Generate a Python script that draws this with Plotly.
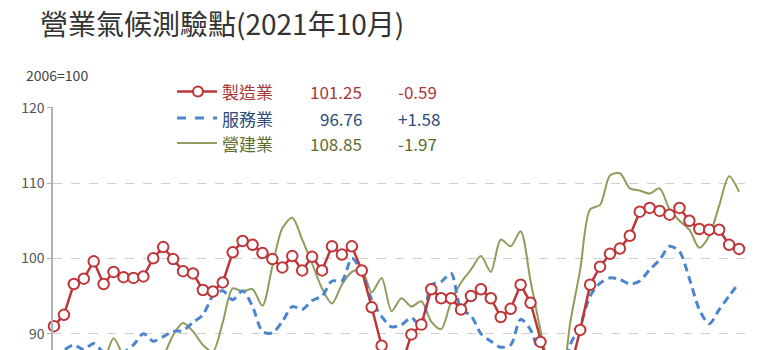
import plotly.graph_objects as go

# ---------------- data ----------------
months = list(range(1, 71))  # Jan 2016 .. Oct 2021 (monthly index)

manufacturing = [91.0, 92.5, 96.6, 97.3, 99.6, 96.6, 98.2, 97.5, 97.4, 97.6,
                 100.0, 101.5, 99.9, 98.3, 98.0, 95.8, 95.6, 96.8, 100.8, 102.3,
                 101.8, 100.7, 99.9, 98.8, 100.3, 98.4, 100.2, 98.4, 101.6, 100.5,
                 101.6, 98.4, 93.5, 88.4, 85.0, 85.8, 89.9, 91.2, 95.9, 94.7,
                 94.7, 93.2, 95.0, 95.9, 94.7, 92.2, 93.3, 96.5, 94.1, 88.9,
                 84.5, 83.0, 85.2, 90.5, 96.5, 98.9, 100.6, 101.3, 103.0, 106.2,
                 106.7, 106.3, 105.8, 106.7, 105.0, 103.9, 103.8, 103.8, 101.8, 101.25]

services = [87.0, 87.8, 88.5, 87.9, 88.7, 87.5, 87.0, 87.5, 88.5, 90.0,
            89.0, 89.6, 90.3, 90.4, 91.5, 92.5, 95.0, 95.7, 94.5, 95.7,
            93.6, 90.3, 90.1, 91.6, 93.6, 93.2, 94.4, 95.0, 97.0, 97.0,
            100.0, 98.2, 94.5, 92.3, 90.9, 91.2, 92.1, 91.0, 96.5, 96.9,
            98.0, 93.2, 92.4, 90.0, 89.0, 88.2, 88.5, 91.9, 90.5, 86.5,
            82.0, 80.0, 88.5, 91.0, 95.0, 96.7, 97.4, 97.2, 96.6, 97.0,
            98.5, 99.8, 101.6, 100.9, 97.3, 93.2, 91.3, 93.2, 95.0, 96.76]

construction = [84.0, 84.5, 85.0, 85.5, 86.0, 86.5, 89.4, 87.0, 85.5, 85.0,
                85.5, 87.0, 89.8, 91.4, 90.3, 88.5, 87.6, 91.5, 96.0, 95.6,
                95.9, 93.7, 99.0, 104.0, 105.4, 102.5, 99.3, 96.0, 94.0, 96.5,
                98.2, 98.5, 95.5, 97.4, 93.0, 94.7, 93.6, 94.3, 91.6, 90.6,
                94.3, 96.8, 98.5, 100.3, 98.2, 102.5, 101.6, 103.6, 97.0, 90.5,
                85.0, 83.0, 91.5, 98.5, 106.5, 107.1, 111.0, 111.3, 109.3, 109.0,
                108.6, 109.3, 106.5, 105.0, 103.8, 101.4, 103.0, 107.0, 110.9, 108.85]

series_names = ["製造業", "服務業", "營建業"]
latest_values = ["101.25", "96.76", "108.85"]
latest_changes = ["-0.59", "+1.58", "-1.97"]
y_ticks = [90, 100, 110, 120]

title_text = "營業氣候測驗點(2021年10月)"
base_text = "2006=100"

# ---------------- style ----------------
RED = "#BE3638"
BLUE = "#4A86CF"
GREEN = "#8E9D5E"
TEXT_COLORS = ["#A83638", "#2E4A7A", "#5E6D2C"]
FONT = "Noto Sans CJK TC"

W_PX, H_PX = 775, 350
L, R, T, B = 53, 30, 107, 0
PW = W_PX - L - R
PH = H_PX - T - B


def px(x):
    return (x - L) / PW


def py(y):
    return (H_PX - B - y) / PH


fig = go.Figure()

fig.add_trace(go.Scatter(
    x=months, y=construction, mode="lines", name=series_names[2],
    line=dict(color=GREEN, width=2, shape="spline", smoothing=0.8),
    hoverinfo="skip"))
fig.add_trace(go.Scatter(
    x=months, y=services, mode="lines", name=series_names[1],
    line=dict(color=BLUE, width=3, dash="8px,5px", shape="spline", smoothing=0.8),
    hoverinfo="skip"))
fig.add_trace(go.Scatter(
    x=months, y=manufacturing, mode="lines+markers", name=series_names[0],
    line=dict(color=RED, width=2.5),
    marker=dict(symbol="circle", size=10.5, color="white",
                line=dict(color=RED, width=2)),
    cliponaxis=False, hoverinfo="skip"))

shapes = []
annotations = []

# title & base note
annotations.append(dict(text=title_text, x=px(38), y=py(23), xref="paper", yref="paper",
                        xanchor="left", yanchor="middle", showarrow=False,
                        font=dict(family=FONT, size=28, color="#333333")))
annotations.append(dict(text=base_text, x=px(24), y=py(75), xref="paper", yref="paper",
                        xanchor="left", yanchor="middle", showarrow=False,
                        font=dict(family=FONT, size=14, color="#444444")))

# custom legend
row_y = [91.5, 118, 143]
line_styles = [dict(color=RED, width=2.5), dict(color=BLUE, width=3, dash="dash"),
               dict(color=GREEN, width=2)]
for i in range(3):
    yy = py(row_y[i])
    shapes.append(dict(type="line", xref="paper", yref="paper",
                       x0=px(177), x1=px(217), y0=yy, y1=yy, line=line_styles[i]))
    annotations.append(dict(text=series_names[i], x=px(220), y=yy, xref="paper", yref="paper",
                            xanchor="left", yanchor="middle", showarrow=False,
                            font=dict(family=FONT, size=17, color=TEXT_COLORS[i])))
    annotations.append(dict(text=latest_values[i], x=px(364), y=yy, xref="paper", yref="paper",
                            xanchor="right", yanchor="middle", showarrow=False,
                            font=dict(family=FONT, size=17, color=TEXT_COLORS[i])))
    annotations.append(dict(text=latest_changes[i], x=px(396), y=yy, xref="paper", yref="paper",
                            xanchor="left", yanchor="middle", showarrow=False,
                            font=dict(family=FONT, size=17, color=TEXT_COLORS[i])))
# legend marker
r = 5
shapes.append(dict(type="circle", xref="paper", yref="paper",
                   x0=px(198 - r), x1=px(198 + r), y0=py(row_y[0] + r), y1=py(row_y[0] - r),
                   line=dict(color=RED, width=2), fillcolor="white"))

fig.update_layout(
    width=W_PX, height=H_PX,
    margin=dict(l=L, r=R, t=T, b=B, pad=0),
    paper_bgcolor="white", plot_bgcolor="white",
    showlegend=False,
    shapes=shapes, annotations=annotations,
    xaxis=dict(range=[0.9, 70.6], visible=False, showgrid=False, zeroline=False),
    yaxis=dict(range=[87.83, 120.1], tickvals=y_ticks, showgrid=True,
               gridcolor="#D0D0D0", griddash="dash", gridwidth=1,
               showline=True, linecolor="#B0B0B0", linewidth=1.5,
               ticks="outside", ticklen=4, tickcolor="#B0B0B0",
               zeroline=False, tickfont=dict(family=FONT, size=14, color="#555555")),
)

fig.write_html("out.html")
